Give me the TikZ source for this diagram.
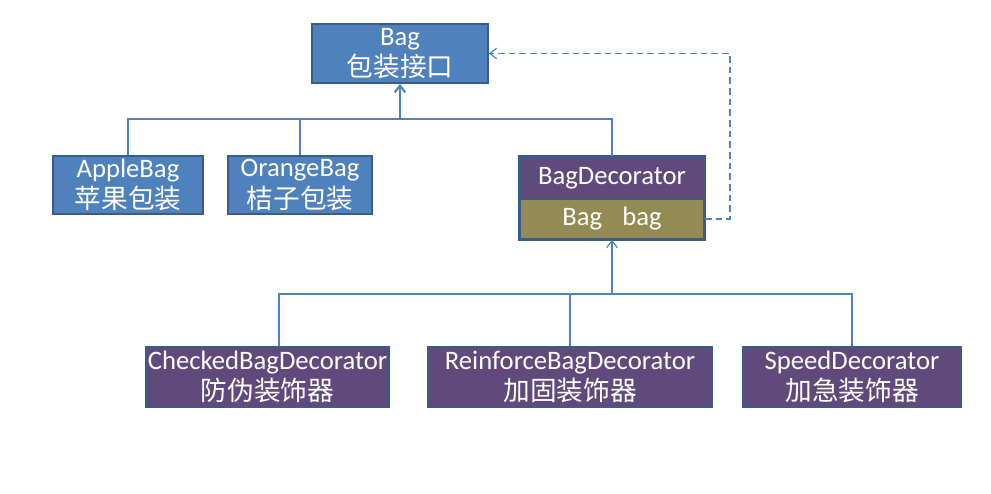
\documentclass[tikz,border=0pt]{standalone}
\usepackage{fontspec}
\setmainfont{Carlito}
\newfontfamily\cjk{Noto Sans CJK SC}
\usetikzlibrary{arrows.meta, positioning}
\definecolor{ifblue}{HTML}{4F81BD}
\definecolor{edgeblue}{HTML}{385D8A}
\definecolor{decopurple}{HTML}{604A7B}
\definecolor{fieldolive}{HTML}{948A54}
\newlength{\gridpx}
\setlength{\gridpx}{0.75pt}
\tikzset{
  box/.style      = {draw=edgeblue, line width=1.5pt, align=center, inner sep=0pt,
                     text=white, font=\fontsize{20}{23.5}\selectfont},
  iface/.style    = {box, fill=ifblue},
  deco/.style     = {box, fill=decopurple},
  field/.style    = {box, fill=fieldolive},
  link/.style     = {draw=ifblue, line width=0.9pt},
  sig/.style      = {link, line width=1.6pt, -{Straight Barb[length=5pt, width=8pt]}},
  isig/.style     = {link, -{Straight Barb[length=5pt, width=8pt]}},
  dsig/.style     = {link, dashed, dash pattern=on 5pt off 3pt,
                     -{Straight Barb[length=5pt, width=8pt]}},
}
\newcommand{\zh}[1]{{\cjk #1}}

\begin{document}
\begin{tikzpicture}[x=\gridpx, y=-\gridpx]
  \useasboundingbox (0,0) rectangle (991,493);

  \node[iface, minimum width=176\gridpx, minimum height=59\gridpx] (bag) at (400,53.5)
    {Bag\\\zh{包装接口}};
  \node[iface, minimum width=150\gridpx, minimum height=58\gridpx] (apple) at (128,185)
    {AppleBag\\\zh{苹果包装}};
  \node[iface, minimum width=144\gridpx, minimum height=58\gridpx] (orange) at (300,185)
    {OrangeBag\\\zh{桔子包装}};
  \node[deco, minimum width=184\gridpx, minimum height=42\gridpx] (decohead) at (612,178)
    {BagDecorator};
  \node[field, minimum width=184\gridpx, minimum height=40\gridpx] (decofield) at (612,219)
    {Bag\hspace{0.75em}bag};
  \draw[edgeblue, line width=1.5pt] (decohead.north west) rectangle (decofield.south east);

  \node[deco, minimum width=243\gridpx, minimum height=60\gridpx] (checked) at (267.5,377)
    {CheckedBagDecorator\\\zh{防伪装饰器}};
  \node[deco, minimum width=284\gridpx, minimum height=60\gridpx] (reinforce) at (570,377)
    {ReinforceBagDecorator\\\zh{加固装饰器}};
  \node[deco, minimum width=218\gridpx, minimum height=60\gridpx] (speed) at (852,377)
    {SpeedDecorator\\\zh{加急装饰器}};

  \coordinate (upbar) at (400,119);
  \coordinate (lowbar) at (612,294);

  \draw[link] (apple.north) |- (upbar);
  \draw[link] (orange.north) -- (orange.north |- upbar);
  \draw[sig] (decohead.north) |- (upbar) -- (bag.south);
  \draw[dsig] (decofield.east) -- ++(25,0) |- (bag.east);

  \draw[link] ([xshift=11.5\gridpx]checked.north) |- (speed.north |- lowbar) -- (speed.north);
  \draw[link] (reinforce.north) -- (reinforce.north |- lowbar);
  \draw[isig] (lowbar) -- (decofield.south);
\end{tikzpicture}
\end{document}
